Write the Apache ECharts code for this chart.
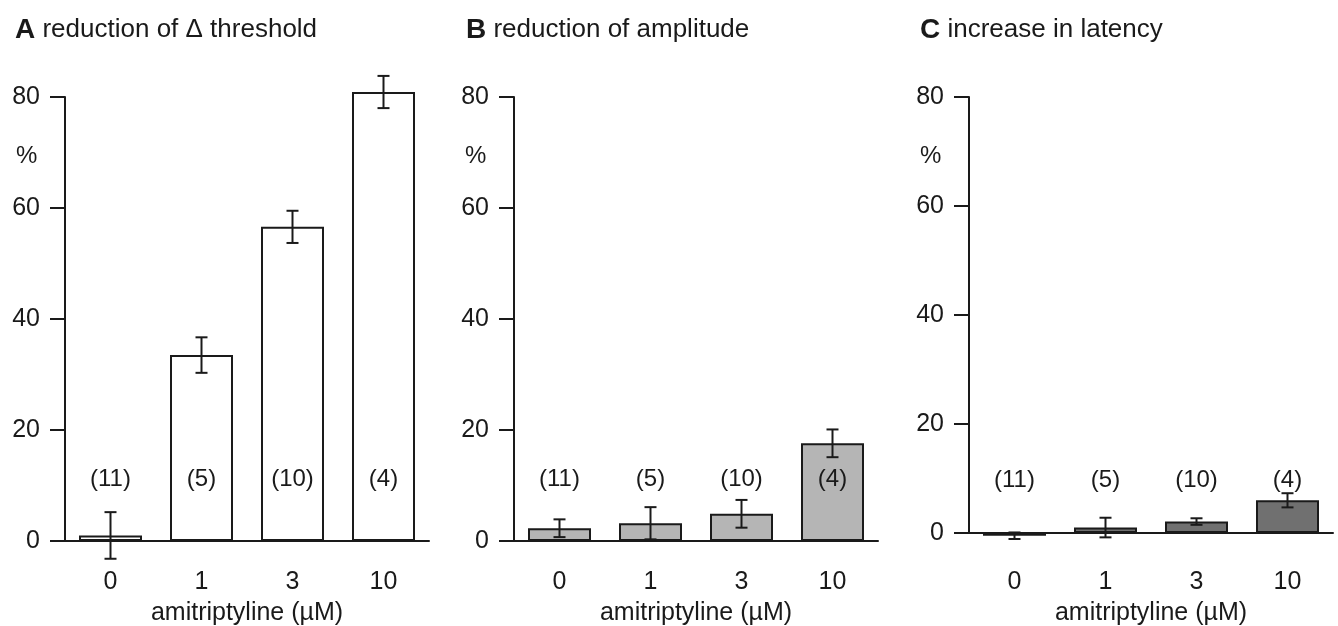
<!DOCTYPE html>
<html>
<head>
<meta charset="utf-8">
<script src="https://cdn.jsdelivr.net/npm/echarts@6/dist/echarts.min.js"></script>
<style>
  html, body { margin: 0; padding: 0; background: #fff; }
  #chart { width: 1338px; height: 626px; }
</style>
</head>
<body>
<div id="chart"></div>
<script>
// amitriptyline concentrations (µM)
const doses = ["0", "1", "3", "10"];
// number of cells per group
const nCells = [11, 5, 10, 4];

// A: reduction of Δ threshold (%)
const thresholdMean = [1.0, 33.5, 56.6, 80.9];
const thresholdErr = [4.2, 3.2, 2.9, 2.9];
// B: reduction of amplitude (%)
const amplitudeMean = [2.3, 3.2, 4.9, 17.6];
const amplitudeErr = [1.6, 2.9, 2.5, 2.5];
// C: increase in latency (%)
const latencyMean = [-0.5, 1.0, 2.1, 6.0];
const latencyErr = [0.6, 1.8, 0.6, 1.3];

const yMin = 0;
const yMax = 80;
const yStep = 20;

const font = "Liberation Sans, Arial, Helvetica, sans-serif";
const ink = "#1a1a1a";

const panels = [
  { letter: "A", title: "reduction of \u0394 threshold", mean: thresholdMean, err: thresholdErr,
    color: "#ffffff", left: 65, bottom: 85, labelMargin: 29, nameGap: 60, countAt: 11.4, titleX: 10 },
  { letter: "B", title: "reduction of amplitude", mean: amplitudeMean, err: amplitudeErr,
    color: "#b5b5b5", left: 514, bottom: 85, labelMargin: 29, nameGap: 60, countAt: 11.4, titleX: 461 },
  { letter: "C", title: "increase in latency", mean: latencyMean, err: latencyErr,
    color: "#707070", left: 969, bottom: 93, labelMargin: 37, nameGap: 68, countAt: 10.1, titleX: 915 },
];

const chart = echarts.init(document.getElementById("chart"));

const grid = [], xAxis = [], yAxis = [], series = [], title = [];

panels.forEach((p, i) => {
  grid.push({ left: p.left, width: 364, top: 97, bottom: p.bottom, containLabel: false, outerBoundsMode: "none" });

  xAxis.push({
    type: "category",
    gridIndex: i,
    data: doses,
    axisLine: { lineStyle: { color: ink, width: 2 } },
    axisTick: { show: false },
    axisLabel: { color: ink, fontSize: 25, fontFamily: font, margin: p.labelMargin },
    name: "amitriptyline (\u00b5M)",
    nameLocation: "middle",
    nameGap: p.nameGap,
    nameTextStyle: { color: ink, fontSize: 25, fontFamily: font },
  });

  yAxis.push({
    type: "value",
    gridIndex: i,
    min: yMin,
    max: yMax,
    interval: yStep,
    axisLine: { show: true, lineStyle: { color: ink, width: 2 } },
    axisTick: { show: true, length: 15, lineStyle: { color: ink, width: 2 } },
    axisLabel: { color: ink, fontSize: 25, fontFamily: font, margin: 25 },
    splitLine: { show: false },
  });

  // panel heading + unit label
  title.push({
    text: "{b|" + p.letter + "} " + p.title,
    left: p.titleX,
    top: 11,
    textStyle: {
      color: ink, fontSize: 26, fontWeight: "normal", fontFamily: font,
      rich: { b: { fontSize: 28, fontWeight: "bold", fontFamily: font, color: ink } },
    },
  });
  title.push({
    text: "%",
    left: p.left - 54,
    top: 139,
    textStyle: { color: ink, fontSize: 24, fontWeight: "normal", fontFamily: font },
  });

  series.push({
    type: "bar",
    xAxisIndex: i,
    yAxisIndex: i,
    data: p.mean,
    barWidth: 63,
    clip: false,
    itemStyle: { color: p.color, borderColor: ink, borderWidth: 2 },
    z: 2,
  });

  // error bars (mean ± SEM)
  series.push({
    type: "custom",
    xAxisIndex: i,
    yAxisIndex: i,
    clip: false,
    z: 5,
    data: p.mean.map((m, k) => [k, m - p.err[k], m + p.err[k]]),
    renderItem: (params, api) => {
      const lo = api.coord([api.value(0), api.value(1)]);
      const hi = api.coord([api.value(0), api.value(2)]);
      const x = lo[0], cap = 6;
      const style = { stroke: ink, lineWidth: 2 };
      return {
        type: "group",
        children: [
          { type: "line", shape: { x1: x, y1: lo[1], x2: x, y2: hi[1] }, style },
          { type: "line", shape: { x1: x - cap, y1: lo[1], x2: x + cap, y2: lo[1] }, style },
          { type: "line", shape: { x1: x - cap, y1: hi[1], x2: x + cap, y2: hi[1] }, style },
        ],
      };
    },
  });

  // n per group
  series.push({
    type: "custom",
    xAxisIndex: i,
    yAxisIndex: i,
    clip: false,
    z: 6,
    data: nCells.map((n, k) => [k, p.countAt, n]),
    renderItem: (params, api) => {
      const pt = api.coord([api.value(0), api.value(1)]);
      return {
        type: "text",
        x: pt[0],
        y: pt[1] + 2,
        style: {
          text: "(" + api.value(2) + ")",
          fill: ink,
          font: "24px " + font,
          align: "center",
          verticalAlign: "middle",
        },
      };
    },
  });
});

chart.setOption({
  backgroundColor: "#fff",
  animation: false,
  title,
  grid,
  xAxis,
  yAxis,
  series,
});
</script>
</body>
</html>
